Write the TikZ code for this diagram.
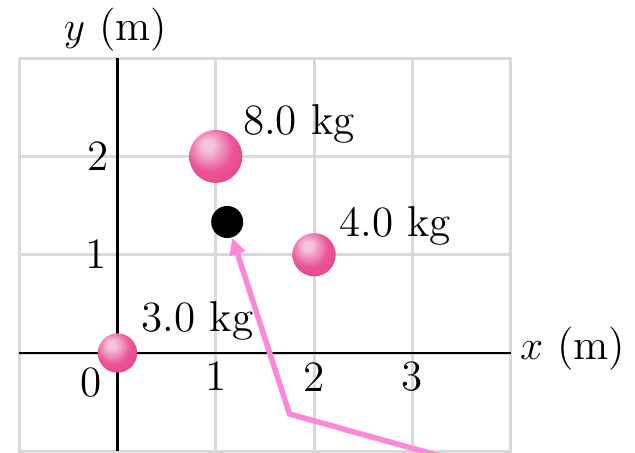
\documentclass[tikz,border=0pt]{standalone}
\usetikzlibrary{arrows.meta}
\definecolor{gridgray}{RGB}{217,217,217}
\definecolor{arrowpink}{RGB}{255,136,214}
\definecolor{ballhi}{RGB}{244,196,220}
\definecolor{ballmid}{RGB}{234,84,150}
\definecolor{balledge}{RGB}{224,58,132}
\definecolor{ballrim}{RGB}{238,112,168}
\pgfdeclareradialshading{pinkball}{\pgfpoint{-8bp}{11bp}}{%
  color(0bp)=(ballhi); color(5bp)=(ballhi); color(22bp)=(ballmid);
  color(46bp)=(balledge); color(56bp)=(ballrim); color(80bp)=(ballrim)}
\tikzset{
  every node/.style={font=\fontsize{12.5}{15}\selectfont, inner sep=0pt},
  gridline/.style={draw=gridgray, line width=0.85pt},
  axisline/.style={draw=black, line width=0.8pt},
  mass/.style={circle, shading=pinkball, inner sep=0pt},
  cmdot/.style={circle, fill=black, minimum size=0.326cm, inner sep=0pt},
  pinkarrow/.style={draw=arrowpink, line width=1.6pt, line join=miter,
    -{Triangle[length=0.17cm,width=0.16cm]}},
  ticklabel/.style={anchor=center}
}
\begin{document}
\begin{tikzpicture}
\useasboundingbox (-1.195,-1.007) rectangle (5.264,3.591);
% grid
\draw[gridline] (-1,-1) grid (4,3);
\draw[gridline] (-1,-1) rectangle (4,3);
% axes
\coordinate (xl) at (-1,0);
\coordinate (xr) at (4,0);
\coordinate (yb) at (0,-1);
\coordinate (yt) at (0,3);
\draw[axisline] (xl) -- (xr);
\draw[axisline] (yb) -- (yt);
% axis labels
\node[anchor=base] (ylab) at (-0.02,3.18) {$y$ (m)};
\node[anchor=base] (xlab) at (4.63,-0.07) {$x$ (m)};
% tick labels
\node[ticklabel] (y2) at (-0.2,2.0) {2};
\node[ticklabel] (y1) at (-0.215,1.01) {1};
\node[ticklabel] (o0) at (-0.27,-0.3) {0};
\node[ticklabel] (x1) at (1.0,-0.23) {1};
\node[ticklabel] (x2) at (2.0,-0.24) {2};
\node[ticklabel] (x3) at (3.0,-0.24) {3};
% centre of mass and arrow
\node[cmdot] (cm) at (1.116,1.333) {};
\coordinate (a0) at (3.40,-1.08);
\coordinate (a1) at (1.75,-0.62);
\draw[pinkarrow] (a0) -- (a1) -- (cm);
% masses
\node[mass, minimum size=0.54cm] (m8) at (1,2) {};
\node[mass, minimum size=0.44cm] (m4) at (2,1) {};
\node[mass, minimum size=0.40cm] (m3) at (0,0) {};
% mass labels
\node[anchor=base west] (l8) at (1.27,2.22) {8.0 kg};
\node[anchor=base west] (l4) at (2.25,1.19) {4.0 kg};
\node[anchor=base west] (l3) at (0.24,0.217) {3.0 kg};
\end{tikzpicture}
\end{document}
